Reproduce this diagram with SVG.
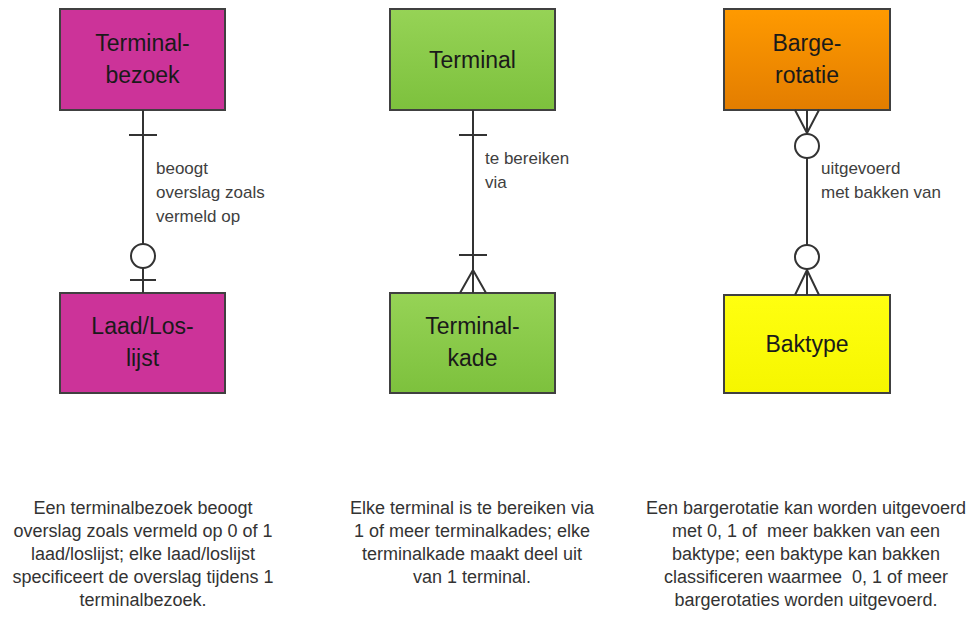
<svg xmlns="http://www.w3.org/2000/svg" width="973" height="617" viewBox="0 0 973 617">
<defs>
<linearGradient id="gGreen" x1="0" y1="0" x2="0" y2="1"><stop offset="0" stop-color="#96d356"/><stop offset="1" stop-color="#7dc13d"/></linearGradient>
<linearGradient id="gOrange" x1="0" y1="0" x2="0" y2="1"><stop offset="0" stop-color="#ff9a00"/><stop offset="1" stop-color="#e37d00"/></linearGradient>
<linearGradient id="gYellow" x1="0" y1="0" x2="0" y2="1"><stop offset="0" stop-color="#ffff10"/><stop offset="1" stop-color="#f6f600"/></linearGradient>
</defs>
<style>
.box{stroke:#404040;stroke-width:2}
.t{font-family:"Liberation Sans",Arial,sans-serif;font-size:23px;fill:#1a1a1a;text-anchor:middle}
.lbl{font-family:"Liberation Sans",Arial,sans-serif;font-size:17px;fill:#404040}
.cap{font-family:"Liberation Sans",Arial,sans-serif;font-size:18px;fill:#333;text-anchor:middle;white-space:pre}
.ln{stroke:#333;stroke-width:2;fill:none}
.circ{stroke:#333;stroke-width:2;fill:#fff}
</style>
<rect width="973" height="617" fill="#fff"/>
<g id="terminalbezoek"><rect class="box" x="60" y="9" width="165" height="101" fill="#cc3399"/><text class="t" x="142.5" y="51">Terminal-</text><text class="t" x="142.5" y="83">bezoek</text></g>
<g id="laadloslijst"><rect class="box" x="60" y="293" width="165" height="100" fill="#cc3399"/><text class="t" x="142.5" y="334">Laad/Los-</text><text class="t" x="142.5" y="366">lijst</text></g>
<g id="terminal"><rect class="box" x="390" y="9" width="165" height="101" fill="url(#gGreen)"/><text class="t" x="472.5" y="68">Terminal</text></g>
<g id="terminalkade"><rect class="box" x="390" y="293" width="165" height="100" fill="url(#gGreen)"/><text class="t" x="472.5" y="334">Terminal-</text><text class="t" x="472.5" y="366">kade</text></g>
<g id="bargerotatie"><rect class="box" x="724" y="9" width="166" height="101" fill="url(#gOrange)"/><text class="t" x="807" y="51">Barge-</text><text class="t" x="807" y="83">rotatie</text></g>
<g id="baktype"><rect class="box" x="724" y="295" width="166" height="98" fill="url(#gYellow)"/><text class="t" x="807" y="352">Baktype</text></g>
<g id="connectors">
<path class="ln" d="M143 110V293 M129 135H157 M130 280H156"/>
<circle class="circ" cx="143" cy="256" r="12"/>
<path class="ln" d="M473 110V293 M459 135H487 M459 255H487 M473 270L460 293 M473 270L486 293"/>
<path class="ln" d="M807 110V295 M795 110L807 133 M819 110L807 133 M807 270L795 295 M807 270L819 295"/>
<circle class="circ" cx="807" cy="146" r="12"/>
<circle class="circ" cx="807" cy="257" r="12"/>
</g>
<g id="labels">
<text class="lbl" x="156" y="174">beoogt</text>
<text class="lbl" x="156" y="198">overslag zoals</text>
<text class="lbl" x="156" y="222">vermeld op</text>
<text class="lbl" x="485" y="164">te bereiken</text>
<text class="lbl" x="485" y="188">via</text>
<text class="lbl" x="821" y="174">uitgevoerd</text>
<text class="lbl" x="821" y="198">met bakken van</text>
</g>
<g id="captions" xml:space="preserve">
<text class="cap" x="143" y="514">Een terminalbezoek beoogt</text>
<text class="cap" x="143" y="537">overslag zoals vermeld op 0 of 1</text>
<text class="cap" x="143" y="560">laad/loslijst; elke laad/loslijst</text>
<text class="cap" x="143" y="583">specificeert de overslag tijdens 1</text>
<text class="cap" x="143" y="606">terminalbezoek.</text>
<text class="cap" x="472" y="514">Elke terminal is te bereiken via</text>
<text class="cap" x="472" y="537">1 of meer terminalkades; elke</text>
<text class="cap" x="472" y="560">terminalkade maakt deel uit</text>
<text class="cap" x="472" y="583">van 1 terminal.</text>
<text class="cap" x="806" y="514">Een bargerotatie kan worden uitgevoerd</text>
<text class="cap" x="806" y="537">met 0, 1 of  meer bakken van een</text>
<text class="cap" x="806" y="560">baktype; een baktype kan bakken</text>
<text class="cap" x="806" y="583">classificeren waarmee  0, 1 of meer</text>
<text class="cap" x="806" y="606">bargerotaties worden uitgevoerd.</text>
</g>
</svg>
